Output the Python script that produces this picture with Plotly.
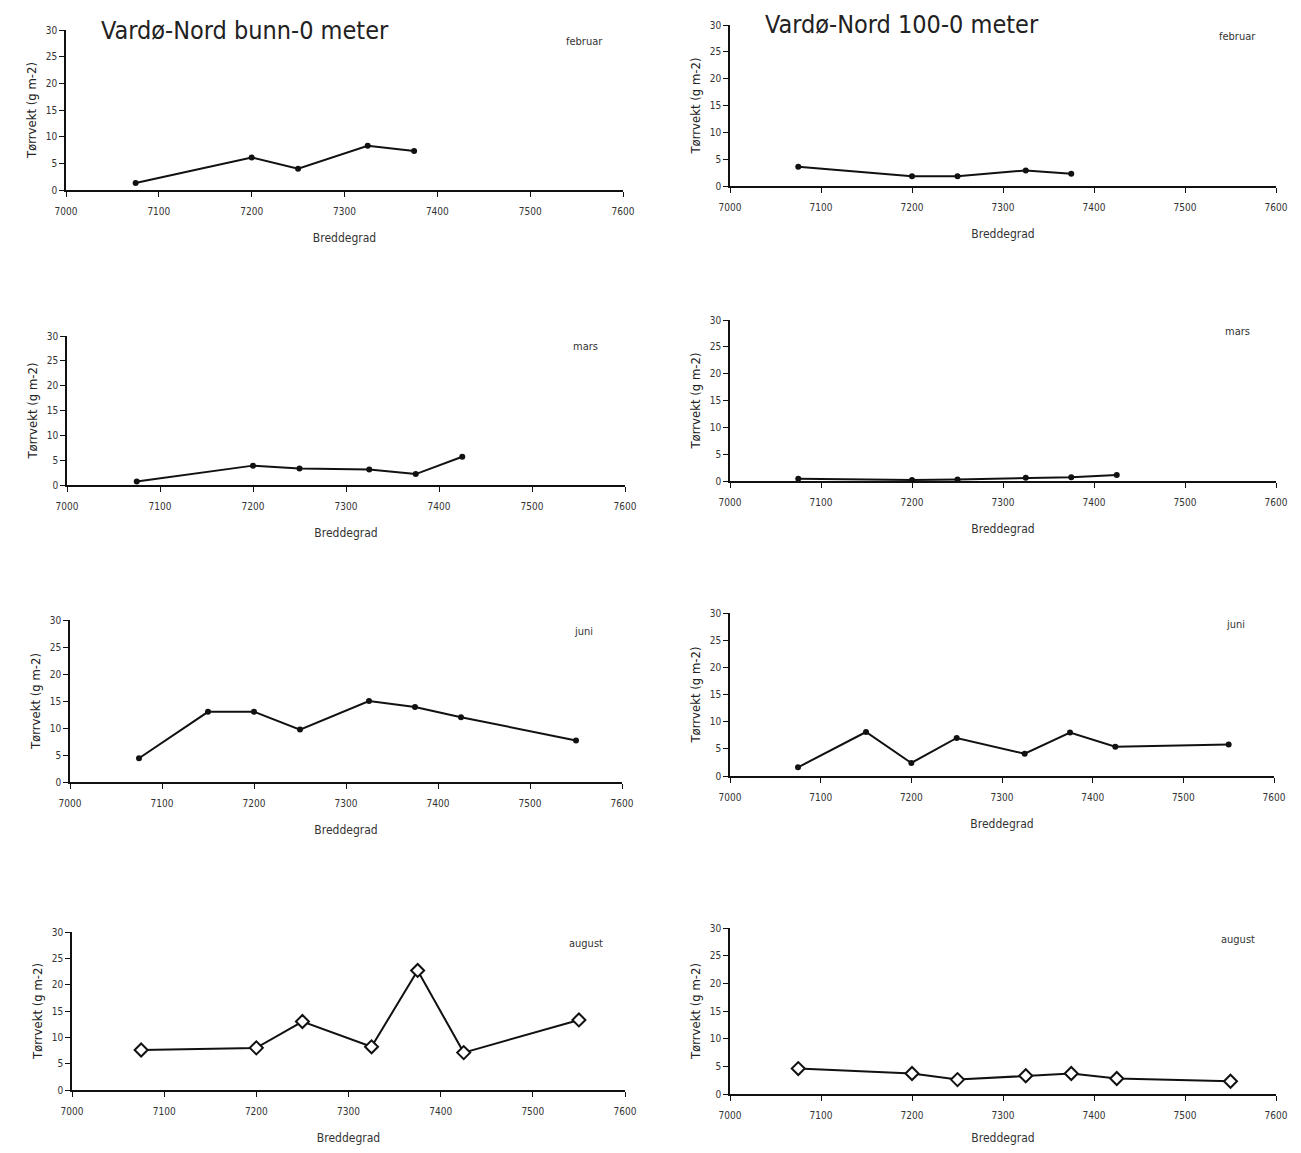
import plotly.graph_objects as go

# ---- data ----
months = ["februar", "mars", "juni", "august"]

bunn_x = {
    "februar": [7075, 7200, 7250, 7325, 7375],
    "mars": [7075, 7200, 7250, 7325, 7375, 7425],
    "juni": [7075, 7150, 7200, 7250, 7325, 7375, 7425, 7550],
    "august": [7075, 7200, 7250, 7325, 7375, 7425, 7550],
}
bunn_y = {
    "februar": [1.3, 6.1, 4.0, 8.3, 7.3],
    "mars": [0.7, 3.9, 3.3, 3.1, 2.2, 5.7],
    "juni": [4.4, 13.0, 13.0, 9.7, 15.0, 13.9, 12.0, 7.7],
    "august": [7.6, 8.0, 13.0, 8.2, 22.7, 7.1, 13.3],
}
m100_x = {
    "februar": [7075, 7200, 7250, 7325, 7375],
    "mars": [7075, 7200, 7250, 7325, 7375, 7425],
    "juni": [7075, 7150, 7200, 7250, 7325, 7375, 7425, 7550],
    "august": [7075, 7200, 7250, 7325, 7375, 7425, 7550],
}
m100_y = {
    "februar": [3.6, 1.8, 1.8, 2.9, 2.3],
    "mars": [0.4, 0.2, 0.3, 0.6, 0.7, 1.1],
    "juni": [1.6, 8.1, 2.4, 7.0, 4.1, 8.0, 5.4, 5.8],
    "august": [4.6, 3.7, 2.6, 3.3, 3.7, 2.8, 2.3],
}
x_ticks = [7000, 7100, 7200, 7300, 7400, 7500, 7600]
y_ticks = [0, 5, 10, 15, 20, 25, 30]
titles = ["Vardø-Nord bunn-0 meter", "Vardø-Nord 100-0 meter"]
x_title = "Breddegrad"
y_title = "Tørrvekt (g m-2)"

# page body has an 8px margin; the figure is sized to fit the 1301x1153 window
OFF = 8
W, H = 1301 - 2 * OFF, 1153 - 2 * OFF
FONT = "DejaVu Sans Condensed, Liberation Sans Narrow, sans-serif"


def px_x(p):
    return (p - OFF) / W


def px_y(p):
    return 1 - (p - OFF) / H


# window-pixel boxes: (left, right, top, bottom)
boxes_left = [(66, 623, 30, 190), (67, 625, 336, 485), (70, 622, 620, 782), (72, 625, 932, 1090)]
boxes_right = [(730, 1276, 25, 186), (730, 1276, 320, 481), (730, 1274, 613, 776), (730, 1276, 928, 1094)]

fig = go.Figure()
layout = dict(
    width=W, height=H, margin=dict(l=0, r=0, t=0, b=0),
    paper_bgcolor="white", plot_bgcolor="white", showlegend=False,
    font=dict(family=FONT, color="#222"),
)
annotations = []

idx = 0
for col, (bx, xs, ys) in enumerate([(boxes_left, bunn_x, bunn_y), (boxes_right, m100_x, m100_y)]):
    for r, m in enumerate(months):
        idx += 1
        l, rr, t, b = bx[r]
        xa = "xaxis" if idx == 1 else f"xaxis{idx}"
        ya = "yaxis" if idx == 1 else f"yaxis{idx}"
        xref = "x" if idx == 1 else f"x{idx}"
        yref = "y" if idx == 1 else f"y{idx}"
        is_aug = m == "august"
        fig.add_trace(go.Scatter(
            x=xs[m], y=ys[m], xaxis=xref, yaxis=yref, mode="lines+markers",
            line=dict(color="#111", width=2),
            marker=dict(
                symbol="diamond" if is_aug else "circle",
                size=10 if is_aug else 6,
                color="white" if is_aug else "#111",
                line=dict(color="#111", width=2 if is_aug else 0),
            ),
            cliponaxis=False,
        ))
        layout[xa] = dict(
            domain=[px_x(l), px_x(rr)], anchor=yref, range=[7000, 7600], automargin=False,
            tickvals=x_ticks, ticks="outside", ticklen=5, tickwidth=1, tickcolor="#111",
            showline=True, linecolor="#111", linewidth=1.5, showgrid=False, zeroline=False,
            tickfont=dict(size=10, color="#333"), ticklabelstandoff=6,
            title=dict(text=x_title, font=dict(size=12, color="#333"), standoff=18),
        )
        layout[ya] = dict(
            domain=[px_y(b), px_y(t)], anchor=xref, range=[0, 30], automargin=False,
            tickvals=y_ticks, ticks="outside", ticklen=5, tickwidth=1, tickcolor="#111",
            showline=True, linecolor="#111", linewidth=1.5, showgrid=False, zeroline=False,
            tickfont=dict(size=10, color="#333"),
            title=dict(text=y_title, font=dict(size=13, color="#222"), standoff=6),
        )
        annotations.append(dict(
            text=m, x=0.93, y=0.93, xref=f"{xref} domain", yref=f"{yref} domain",
            showarrow=False, font=dict(size=11, color="#333"), xanchor="center", yanchor="middle",
        ))
        if r == 0:
            annotations.append(dict(
                text=titles[col], x=px_x(l + 33), y=px_y(30 if col == 0 else 25),
                xref="paper", yref="paper", xanchor="left", yanchor="middle", showarrow=False,
                font=dict(size=25, color="#222", family=FONT),
            ))

layout["annotations"] = annotations
fig.update_layout(**layout)
fig.write_html("out.html")
